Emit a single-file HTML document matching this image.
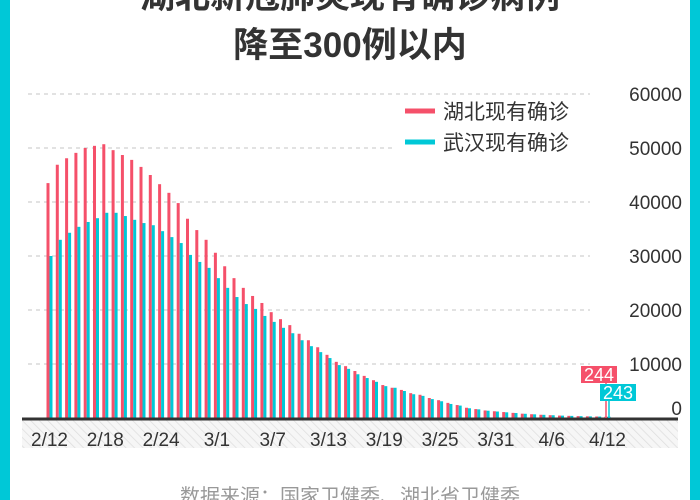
<!DOCTYPE html>
<html><head><meta charset="utf-8">
<style>
html,body{margin:0;padding:0;background:#fff;}
svg{display:block;font-family:"Liberation Sans","Noto Sans CJK SC",sans-serif;}
</style></head>
<body>
<svg id="chart" width="700" height="500" viewBox="0 0 700 500" xmlns="http://www.w3.org/2000/svg">
<defs>
<pattern id="hatch" width="6" height="6" patternUnits="userSpaceOnUse" patternTransform="rotate(-45)">
<rect width="6" height="6" fill="#f6f6f6"/>
<line x1="0" y1="0" x2="0" y2="6" stroke="#dedede" stroke-width="1.5"/>
</pattern>
</defs>
<rect x="0" y="0" width="10" height="500" fill="#00c8d7"/>
<rect x="690" y="0" width="10" height="500" fill="#00c8d7"/>
<text x="350" y="8" text-anchor="middle" font-size="35" font-weight="bold" fill="#333">湖北新冠肺炎现有确诊病例</text>
<text x="350" y="57" text-anchor="middle" font-size="35" font-weight="bold" fill="#333">降至300例以内</text>
<g id="grid"></g>
<g id="bars"></g>
<rect x="22" y="420" width="656" height="28" fill="url(#hatch)"/>
<line x1="22" y1="419" x2="678" y2="419" stroke="#333" stroke-width="3"/>
<g id="xlabels"></g>
<g id="ylabels"></g>
<g>
<rect x="395" y="96" width="200" height="60" fill="#fff"/>
<g>
<line x1="405" y1="111" x2="435" y2="111" stroke="#f5506a" stroke-width="5"/>
<text x="443" y="119" font-size="21" fill="#333">湖北现有确诊</text>
</g>
<g>
<line x1="405" y1="142" x2="435" y2="142" stroke="#00c8d7" stroke-width="5"/>
<text x="443" y="150" font-size="21" fill="#333">武汉现有确诊</text>
</g>
</g>
<g id="callouts"></g>
<text x="350" y="503" text-anchor="middle" font-size="20" fill="#999">数据来源：国家卫健委、湖北省卫健委</text>
</svg>
<script>
const xTickLabels = ["2/12","2/18","2/24","3/1","3/7","3/13","3/19","3/25","3/31","4/6","4/12"];
const yTicks = [0,10000,20000,30000,40000,50000,60000];
const hubei = [43500,46900,48100,49100,50000,50400,50700,49600,48700,47800,46500,45000,43300,41700,39800,36900,34800,33000,30600,28100,
25900,24100,22600,21300,19600,18300,17200,15600,14400,13100,11700,10400,9600,8700,7800,7000,6100,5600,5200,4600,4300,3700,3300,2800,
2400,1900,1650,1400,1250,1100,950,800,700,600,520,450,400,350,310,280,244];
const wuhan = [30000,33000,34300,35400,36300,37000,38000,38000,37400,36700,36100,35700,34600,33500,32400,30200,28900,27800,25900,24100,
22400,21100,20200,18900,17800,16700,15700,14400,13300,12200,11100,9800,9100,8100,7400,6700,5900,5600,5000,4400,4100,3500,3100,2600,
2300,1800,1600,1350,1200,1050,920,780,680,590,510,440,390,340,300,270,243];
const NS="http://www.w3.org/2000/svg";
const y0=418, yTop=94, yMax=60000;
const yS=v=>y0-(v/yMax)*(y0-yTop);
const x0=48, step=9.3;
const xS=i=>x0+i*step;
function mk(tag,attrs,parent){const e=document.createElementNS(NS,tag);for(const k in attrs)e.setAttribute(k,attrs[k]);parent.appendChild(e);return e;}
const grid=document.getElementById('grid'), bars=document.getElementById('bars'),
xl=document.getElementById('xlabels'), yl=document.getElementById('ylabels'), co=document.getElementById('callouts');
yTicks.forEach(t=>{
  const y=yS(t);
  if(t>0){
    const l=mk('line',{x1:28,x2:590,y1:y,y2:y,stroke:'#d0d0d0','stroke-width':1.2,'stroke-dasharray':'4 4'},grid);
    
    
  }
  const tx=mk('text',{x:682,y:(t===0?y-3:y+7),'text-anchor':'end','font-size':19,fill:'#333'},yl);
  tx.textContent=String(t);
  
  
});
hubei.forEach((v,i)=>{
  const r=mk('rect',{x:xS(i)-1.5,y:yS(v),width:3,height:y0-yS(v),fill:'#f5506a'},bars);
  
  
});
wuhan.forEach((v,i)=>{
  const r=mk('rect',{x:xS(i)+1.5,y:yS(v),width:3,height:y0-yS(v),fill:'#00c8d7'},bars);
  
  
});
xTickLabels.forEach((s,k)=>{
  const t=mk('text',{x:xS(k*6)+1.5,y:446,'text-anchor':'middle','font-size':19,fill:'#333'},xl);
  t.textContent=s;
  
  
});
// callouts for last values
const li=hubei.length-1;
const hx=xS(li), wx=xS(li)+3;
const l1=mk('line',{x1:hx,x2:hx,y1:383,y2:y0,stroke:'#f5506a','stroke-width':1.5},co);


const l2=mk('line',{x1:wx,x2:wx,y1:401,y2:y0,stroke:'#00c8d7','stroke-width':1.5},co);


const b1=mk('rect',{x:hx-25,y:366,width:36,height:17,fill:'#f5506a'},co);


const t1=mk('text',{x:hx-7,y:381,'text-anchor':'middle','font-size':18,fill:'#fff'},co);
t1.textContent=String(hubei[li]);


const b2=mk('rect',{x:wx-9,y:384,width:36,height:17,fill:'#00c8d7'},co);


const t2=mk('text',{x:wx+9,y:399,'text-anchor':'middle','font-size':18,fill:'#fff'},co);
t2.textContent=String(wuhan[li]);


</script>
</body></html>
